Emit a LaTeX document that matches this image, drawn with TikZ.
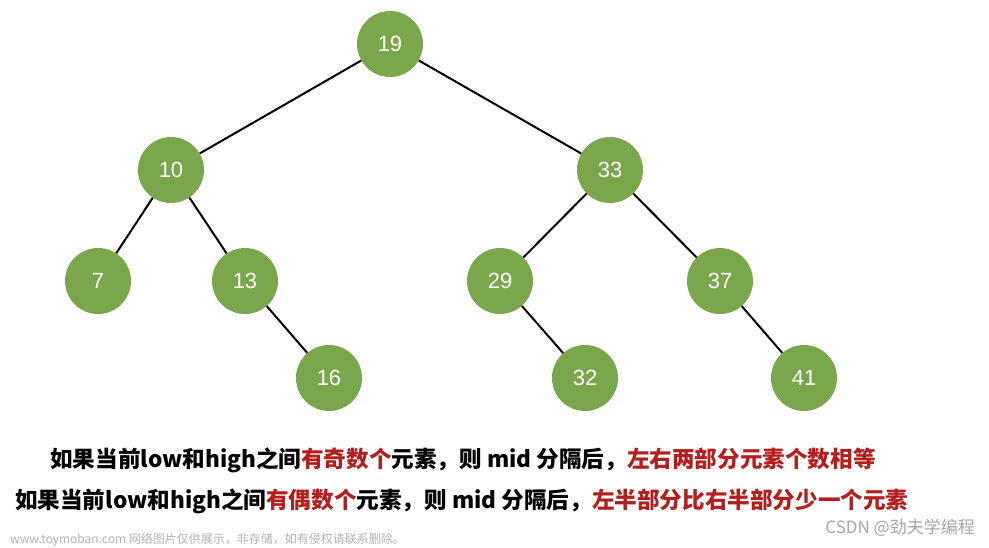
\documentclass[tikz,border=0pt]{standalone}
\usepackage{fontspec}
\setmainfont{Liberation Sans}
\newfontfamily\cjk{Noto Sans CJK SC}
\usetikzlibrary{positioning}
\definecolor{leaf}{RGB}{122,166,76}
\definecolor{hot}{RGB}{180,30,30}
\begin{document}
\begin{tikzpicture}[x=1pt,y=-1pt,every node/.style={inner sep=0pt},
  num/.style={circle,fill=leaf,minimum size=66pt,text=white,font=\fontsize{22}{24}\selectfont},
  link/.style={line width=2pt}]
	\useasboundingbox (0,0) rectangle (989,548);
	%Tree
	\node [num] (n19) at (390,44) {19};
	\node [num] (n10) at (171,170) {10};
	\node [num] (n33) at (610,170) {33};
	\node [num] (n7) at (98,281) {7};
	\node [num] (n13) at (245,281) {13};
	\node [num] (n29) at (500,281) {29};
	\node [num] (n37) at (720,281) {37};
	\node [num] (n16) at (329,378) {16};
	\node [num] (n32) at (585,378) {32};
	\node [num] (n41) at (804,378) {41};
	\draw[link] (n19) -- (n10);
	\draw[link] (n19) -- (n33);
	\draw[link] (n10) -- (n7);
	\draw[link] (n10) -- (n13);
	\draw[link] (n13) -- (n16);
	\draw[link] (n33) -- (n29);
	\draw[link] (n33) -- (n37);
	\draw[link] (n29) -- (n32);
	\draw[link] (n37) -- (n41);
	%Notes
	\node [anchor=west,font=\cjk\bfseries\fontsize{22.6}{25}\selectfont] (odd) at (50,460)
	  {如果当前low和high之间\textcolor{hot}{有奇数个}元素，则 mid 分隔后，\textcolor{hot}{左右两部分元素个数相等}};
	\node [anchor=west,font=\cjk\bfseries\fontsize{22.6}{25}\selectfont] (even) at (15,501)
	  {如果当前low和high之间\textcolor{hot}{有偶数个}元素，则 mid 分隔后，\textcolor{hot}{左半部分比右半部分少一个元素}};
	\node [anchor=east,text=gray!70,font=\cjk\fontsize{17}{19}\selectfont] (csdn) at (975,528) {CSDN @劲夫学编程};
	\node [anchor=west,text=gray!60,font=\cjk\fontsize{12}{14}\selectfont] (mark) at (10,540) {www.toymoban.com 网络图片仅供展示，非存储，如有侵权请联系删除。};
\end{tikzpicture}
\end{document}
